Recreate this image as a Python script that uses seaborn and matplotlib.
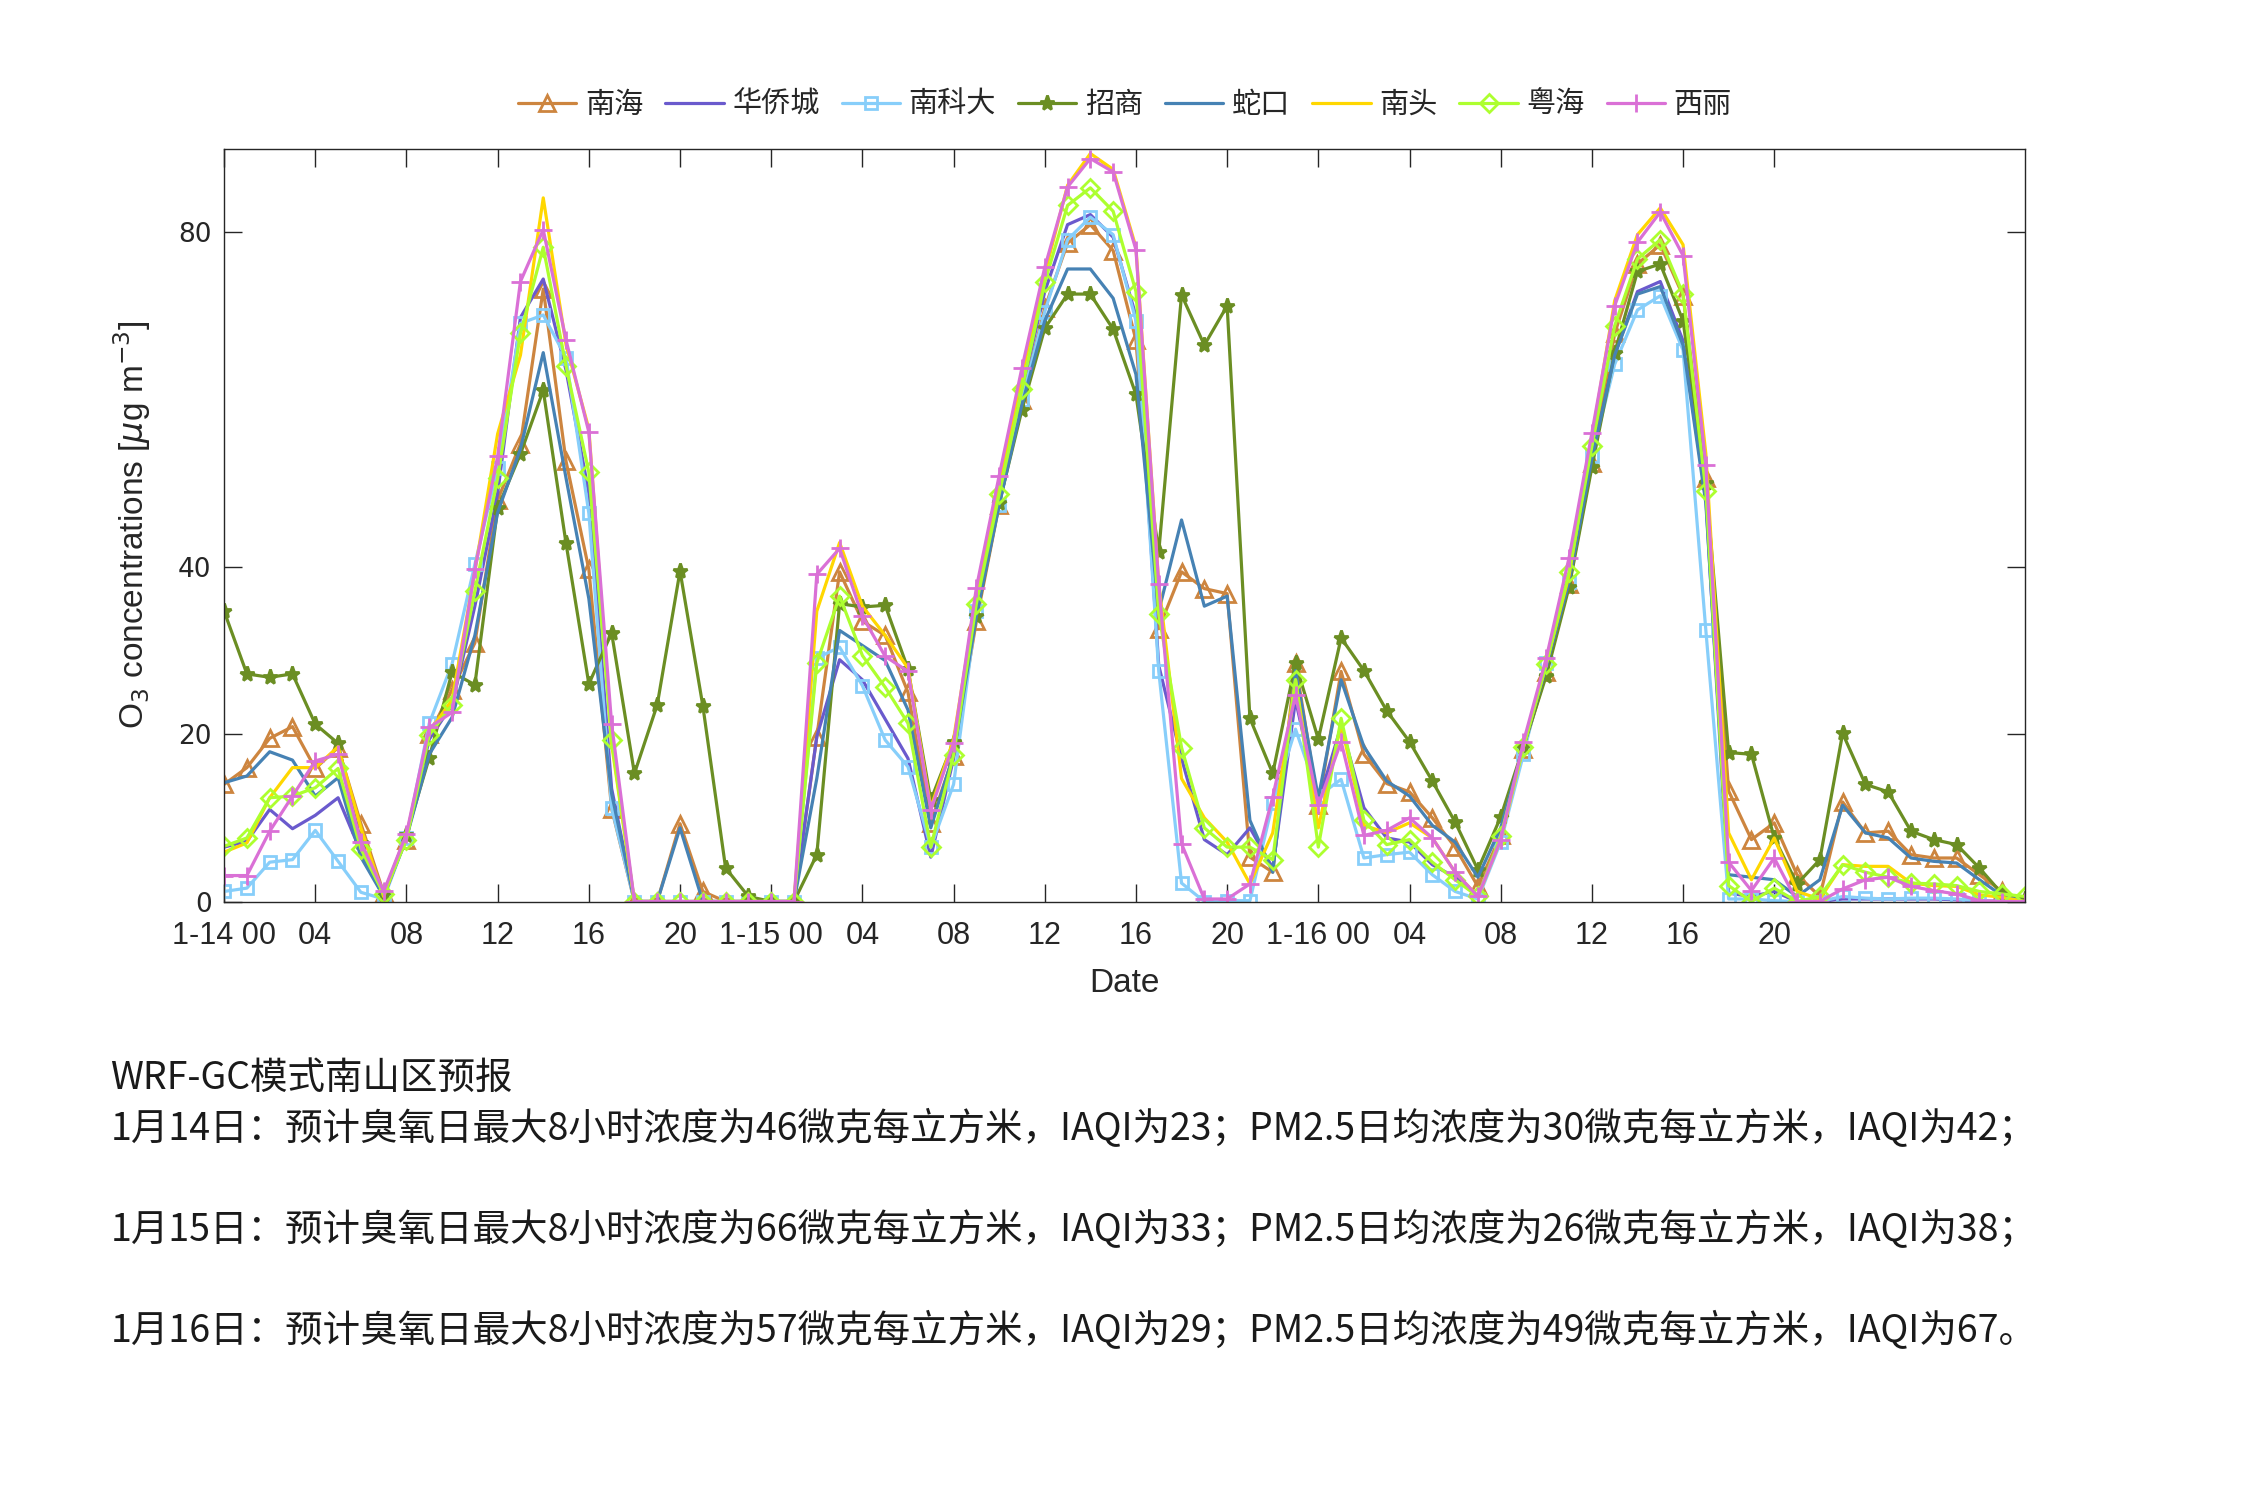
import numpy as np
import pandas as pd
import matplotlib
matplotlib.use("Agg")
import matplotlib.pyplot as plt
import seaborn as sns

# ---------------- data ----------------
hours = list(range(80))
stations = ["南海", "华侨城", "南科大", "招商", "蛇口", "南头", "粤海", "西丽"]

nanhai = [14, 16, 19.5, 20.9, 15.9, 18.4, 9.3, 1, 7.4, 20,
          25.3, 30.9, 48, 54.7, 73.2, 52.6, 39.7, 11.1, 0, 0,
          9.3, 1.2, 0, 0, 0, 0, 19.7, 39.4, 33.5, 31.8,
          25, 9.4, 17.4, 33.5, 47.4, 60, 70.9, 78.7, 80.9, 77.8,
          67.1, 32.6, 39.4, 37.4, 36.8, 5.3, 3.5, 28.5, 11.5, 27.5,
          17.6, 14.1, 13.1, 10, 6.5, 1.8, 7.9, 18.2, 27.4, 37.9,
          52.4, 67.9, 76.2, 78.5, 72.4, 50.6, 13.2, 7.4, 9.4, 3.2,
          0.6, 11.9, 8.2, 8.4, 5.6, 5.2, 5.2, 3.2, 1.2, 0]
huaqiaocheng = [6.5, 7.2, 11, 8.7, 10.3, 12.4, 5.9, 0.6, 7.6, 19.4,
                23.5, 35.3, 48.8, 69.8, 74.4, 63.5, 48.8, 13.5, 0, 0,
                0, 0, 0, 0, 0, 0, 19.7, 28.9, 26.5, 21.8,
                17.1, 5.3, 17.1, 34.7, 48.2, 61.2, 72.9, 80.9, 82.1, 79.4,
                70, 28.2, 17.1, 7.4, 5.6, 8.8, 4, 24.1, 11.8, 21,
                11.2, 7.6, 7.1, 4.4, 2.9, 0.6, 7.5, 18.5, 28, 38,
                52.9, 65.3, 72.9, 74.1, 67, 48.2, 1, 0.6, 1.2, 0,
                0, 0.3, 0.3, 0.3, 0.3, 0.3, 0.2, 0.1, 0, 0]
nankeda = [1.2, 1.6, 4.7, 5, 8.5, 4.8, 1.1, 0.3, 7.6, 21.3,
           28.4, 40.3, 51.8, 69.1, 70.1, 65, 46.4, 11.2, 0, 0,
           0, 0, 0, 0, 0, 0, 29.1, 30.4, 25.8, 19.3,
           16.1, 6.5, 14, 34.7, 47.4, 60, 70.5, 79.1, 81.8, 79.7,
           69.4, 27.5, 2.2, 0, 0.1, 0.1, 11.8, 20.6, 12.6, 14.6,
           5.2, 5.6, 5.9, 3.2, 1.2, 0.3, 7.1, 17.6, 28.5, 38.2,
           53.2, 64.2, 70.7, 72.4, 65.9, 32.4, 0.3, 0.3, 0.1, 0,
           0, 0.6, 0.4, 0.3, 0.4, 0.4, 0.3, 0.1, 0, 0]
zhaoshang = [34.7, 27.2, 26.8, 27.2, 21.2, 18.9, 7, 0.9, 8, 17.2,
             27.4, 25.9, 47, 53.5, 61.1, 42.8, 26, 32.1, 15.3, 23.5,
             39.5, 23.4, 4, 0.6, 0, 0, 5.6, 35.6, 35.2, 35.4,
             27.8, 12.1, 19.1, 34.1, 47.6, 58.8, 68.5, 72.6, 72.6, 68.4,
             60.6, 41.8, 72.5, 66.5, 71.2, 21.9, 15.3, 28.5, 19.4, 31.5,
             27.6, 22.8, 19.1, 14.4, 9.5, 3.8, 10.1, 18.5, 27, 37.6,
             51.9, 65.6, 75.3, 76.2, 69.4, 50, 17.8, 17.6, 7.6, 2.1,
             5, 20.1, 14, 13.1, 8.4, 7.4, 6.8, 4, 0.9, 0.3]
shekou = [14.2, 15, 17.9, 16.9, 12.6, 14.8, 5.3, 0.6, 7.6, 17.6,
          22, 31.8, 46.5, 54.1, 65.6, 50.6, 36.2, 12.9, 0, 0,
          8.8, 0, 0, 0, 0, 0, 14.7, 32.4, 30.6, 28.8,
          22.9, 8.8, 17.6, 34.1, 47.4, 59.4, 69.4, 75.6, 75.6, 72.1,
          63, 34.7, 45.6, 35.3, 36.5, 9.7, 3.5, 27.6, 12.4, 26.5,
          18.5, 14.4, 12.6, 9.1, 7.1, 2.9, 8.8, 18.5, 28, 38.2,
          52.9, 65.3, 72.6, 73.5, 66.5, 47.6, 3.2, 2.9, 2.6, 0.6,
          2.6, 11.5, 8.2, 7.6, 5.2, 4.8, 4.6, 2.6, 0.7, 0]
nantou = [5.9, 7, 12.4, 16, 16, 18.5, 8.8, 0.6, 7.9, 20.3,
          24.1, 39.4, 55.9, 65.3, 84.1, 66.5, 56.5, 18.8, 0, 0,
          0, 0, 0, 0, 0, 0, 34.7, 42.9, 35.3, 31.8,
          27.9, 11.2, 19.4, 36.5, 50, 62.9, 75, 85.6, 89.4, 87.5,
          78.2, 38, 14.7, 10, 7.1, 2.1, 8.2, 26.5, 8.8, 21.2,
          9.1, 8.2, 9.4, 7.6, 3.5, 0.6, 7.4, 18.5, 28.4, 39,
          55.3, 71.8, 79.7, 82.9, 78.5, 53.5, 8.2, 2.6, 7.6, 1.2,
          0.3, 4.4, 4.2, 4.2, 2.2, 1.9, 1.8, 0.8, 0.5, 0]
yuehai = [6.6, 7.6, 12.4, 12.6, 13.6, 15.9, 6.3, 0.9, 7.4, 19.9,
          23.5, 37.1, 50.6, 67.9, 78.2, 64, 51.3, 19.3, 0, 0,
          0, 0, 0, 0, 0, 0, 28.5, 36.5, 29.4, 25.6,
          21.3, 6.5, 17.5, 35.6, 48.7, 61.2, 74, 83.2, 85.3, 82.5,
          72.9, 34.4, 18.4, 8.8, 6.5, 6.5, 5, 26.5, 6.5, 21.9,
          9.7, 6.8, 7.4, 4.7, 2.6, 0.6, 7.8, 18.5, 28.4, 39.4,
          54.4, 68.8, 76.8, 79.1, 72.6, 49.1, 1.9, 0, 1.6, 0,
          0.6, 4.4, 3.5, 2.9, 2.2, 2.1, 1.9, 1.2, 0.9, 0.6]
xili = [3.1, 3.1, 8.4, 12.6, 16.8, 17.6, 7.1, 1.2, 8.1, 20.8,
        22.6, 39.7, 53.2, 74.1, 80.3, 67.1, 56.1, 21.2, 0, 0,
        0, 0, 0, 0, 0, 0, 39.1, 42.2, 34.1, 29.3,
        27.5, 10.9, 18.9, 37.5, 50.9, 63.8, 75.8, 85.4, 88.8, 87.2,
        77.9, 37.9, 6.9, 0.3, 0.3, 2.1, 12.5, 24.7, 11.5, 19.1,
        7.9, 8.5, 10, 7.6, 3.5, 0.6, 7.4, 19.1, 29.1, 41.1,
        56, 71.2, 78.8, 82.4, 77.2, 52.2, 4.7, 1.3, 5.2, 0,
        0, 1.5, 2.6, 2.9, 1.8, 1.3, 0.9, 0.1, 0, 0]

tick_hours = list(range(0, 69, 4))
tick_labels = ["1-14 00", "04", "08", "12", "16", "20",
               "1-15 00", "04", "08", "12", "16", "20",
               "1-16 00", "04", "08", "12", "16", "20"]
y_ticks = [0, 20, 40, 80]

text_lines = [
    "WRF-GC模式南山区预报",
    "1月14日：预计臭氧日最大8小时浓度为46微克每立方米，IAQI为23；PM2.5日均浓度为30微克每立方米，IAQI为42；",
    "1月15日：预计臭氧日最大8小时浓度为66微克每立方米，IAQI为33；PM2.5日均浓度为26微克每立方米，IAQI为38；",
    "1月16日：预计臭氧日最大8小时浓度为57微克每立方米，IAQI为29；PM2.5日均浓度为49微克每立方米，IAQI为67。",
]

series = [nanhai, huaqiaocheng, nankeda, zhaoshang, shekou, nantou, yuehai, xili]

# ---------------- style ----------------
sns.set_theme(style="ticks")
plt.rcParams["font.family"] = ["Noto Sans CJK SC", "DejaVu Sans"]
plt.rcParams["mathtext.fontset"] = "dejavusans"

colors = ["#CD853F", "#6A5ACD", "#87CEFA", "#6B8E23",
          "#4682B4", "#FFD700", "#ADFF2F", "#DA70D6"]
markers = ["^", None, "s", "*", None, None, "D", "+"]
msizes = [12, 0, 8, 11, 0, 0, 9, 13]
open_marker = [True, False, True, False, False, False, True, False]

df = pd.DataFrame({name: vals for name, vals in zip(stations, series)})
df["hour"] = hours
long = df.melt(id_vars="hour", var_name="station", value_name="o3")

fig = plt.figure(figsize=(22.5, 15), dpi=100)
ax = fig.add_axes([0.0996, 0.399, 0.8004, 0.502])

for name, c, m, ms, op in zip(stations, colors, markers, msizes, open_marker):
    sub = long[long["station"] == name]
    kw = dict(color=c, lw=2.3, label=name, ax=ax)
    if m is not None:
        kw.update(marker=m, markersize=ms, markeredgecolor=c,
                  markeredgewidth=2.0,
                  markerfacecolor="none" if op else c)
    sns.lineplot(data=sub, x="hour", y="o3", **kw)

narrow = ["Liberation Sans Narrow", "Liberation Sans", "DejaVu Sans"]

ax.set_xlim(0, 79)
ax.set_ylim(0, 90)
ax.set_xticks(tick_hours)
ax.set_xticklabels(tick_labels, family=narrow, fontsize=22)
ax.set_yticks(y_ticks)
ax.set_yticklabels([str(v) for v in y_ticks], family=["DejaVu Sans"], fontsize=19)
ax.tick_params(axis="both", direction="in", length=13, width=1.0,
               top=True, right=True, colors="#262626")
ax.tick_params(axis="x", pad=14)
ax.tick_params(axis="y", pad=9)
for sp in ax.spines.values():
    sp.set_visible(True)
    sp.set_color("#262626")
    sp.set_linewidth(1.0)

ax.set_xlabel("Date", family=narrow, fontsize=24, color="#262626", labelpad=12)
ax.set_ylabel(r"O$_3$ concentrations [$\mu$g m$^{-3}$]", family=narrow,
              fontsize=24, color="#262626", labelpad=18)

leg = ax.get_legend()
if leg is not None:
    leg.remove()
handles, labels = ax.get_legend_handles_labels()
fig.legend(handles, labels, loc="center", bbox_to_anchor=(0.5, 0.930), ncol=8,
           frameon=False, handlelength=2.0, handletextpad=0.3,
           columnspacing=0.75, prop={"family": ["Noto Sans CJK SC"], "size": 21})

ys = [0.281, 0.2467, 0.1793, 0.112]
for t, y in zip(text_lines, ys):
    fig.text(0.049, y, t, fontsize=27, va="center", ha="left",
             family=["Noto Sans CJK SC", "DejaVu Sans"], color="#1a1a1a")

fig.savefig("out.png", dpi=100, facecolor="white")
